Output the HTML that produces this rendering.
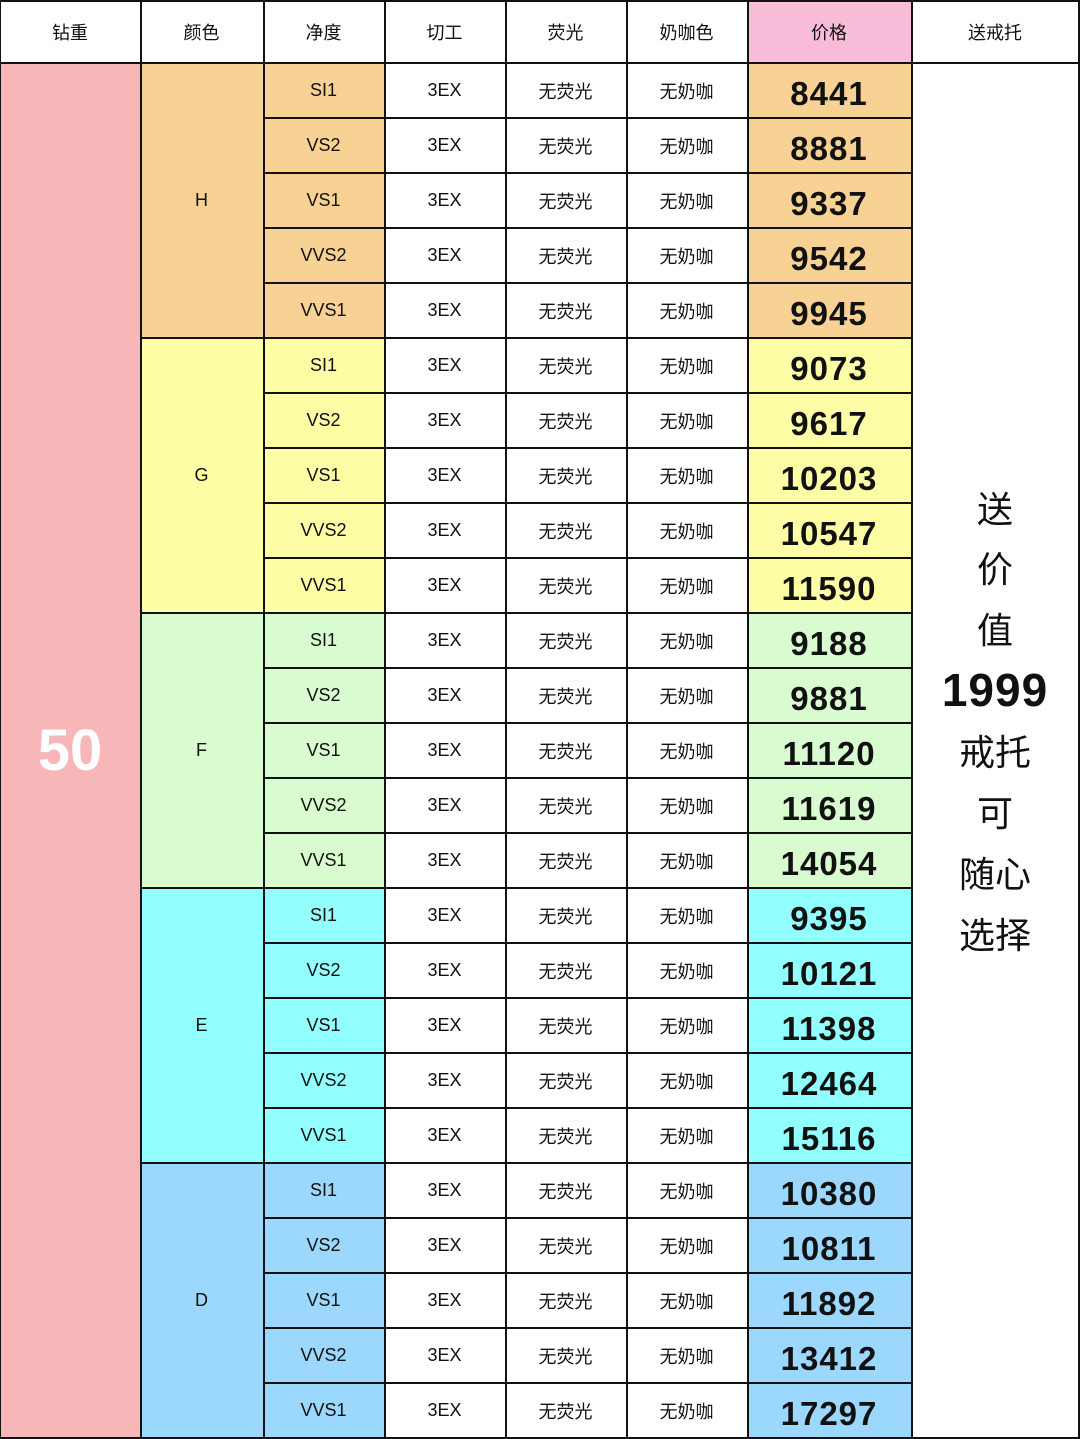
<!DOCTYPE html>
<html><head><meta charset="utf-8"><style>
body{margin:0;width:1080px;height:1439px;background:#fff;position:relative;overflow:hidden;font-family:"Liberation Sans","Noto Sans CJK SC",sans-serif;}
.c{position:absolute;box-sizing:border-box;display:flex;align-items:center;justify-content:center;color:#111;}
.ln{position:absolute;background:#111;}
</style></head><body>
<div id="root"></div>
<script>
const headers=['钻重','颜色','净度','切工','荧光','奶咖色','价格','送戒托'];
const colors=['H','G','F','E','D'];
const clarities=['SI1','VS2','VS1','VVS2','VVS1'];
const prices=[8441,8881,9337,9542,9945,9073,9617,10203,10547,11590,9188,9881,11120,11619,14054,9395,10121,11398,12464,15116,10380,10811,11892,13412,17297];
const fills=['#F8D294','#FDFDA6','#D8FCD0','#92FEFE','#9CD7FD'];
const xs=[0,140,263,384,505,626,747,911,1079];
const top0=63,rh=55;
const root=document.getElementById('root');
function cell(x,y,w,h,txt,bg,css,name){
  const d=document.createElement('div');d.className='c';
  d.style.cssText=`left:${x}px;top:${y}px;width:${w}px;height:${h}px;background:${bg||'transparent'};${css||''}`;
  d.textContent=txt;
  
  
  root.appendChild(d);return d;
}
function line(x,y,w,h){const l=document.createElement('div');l.className='ln';l.style.cssText=`left:${x}px;top:${y}px;width:${w}px;height:${h}px`;


root.appendChild(l);}
headers.forEach((h,i)=>{
  cell(xs[i],0,xs[i+1]-xs[i],top0,h,i==6?'#F9BCD8':'#fff','font-size:18px;','header-'+i);
});
cell(0,top0,140,25*rh,'50','#F7B7B9','color:#fff;font-size:58px;font-weight:bold;','carat-cell');
colors.forEach((c,g)=>{
  cell(140,top0+g*5*rh,123,5*rh,c,fills[g],'font-size:18px;','color-'+c);
  clarities.forEach((cl,k)=>{
    const r=g*5+k,y=top0+r*rh;
    cell(263,y,121,rh,cl,fills[g],'font-size:18px;','clarity-cell');
    cell(384,y,121,rh,'3EX','#fff','font-size:18px;','cut-cell');
    cell(505,y,121,rh,'无荧光','#fff','font-size:18px;','fluorescence-cell');
    cell(626,y,121,rh,'无奶咖','#fff','font-size:18px;','milky-cell');
    cell(747,y,164,rh,String(prices[r]),fills[g],'font-size:33px;font-weight:bold;letter-spacing:1px;padding-top:6px;','price-cell');
  });
});
const side=[['送',507,36,''],['价',567,36,''],['值',628,36,''],['1999',690,46,'font-weight:bold;letter-spacing:1px;'],['戒托',750,36,''],['可',811,36,''],['随心',872,36,''],['选择',933,36,'']];
side.forEach((s,i)=>cell(911,s[1]-30,168,60,s[0],null,`font-size:${s[2]}px;${s[3]}`,'gift-text-'+i));
// grid lines
xs.forEach(x=>line(Math.min(x,1078),0,x==0?1:2,1439));
line(0,0,1080,2);line(0,top0-1,1080,2);line(0,1437,1080,2);
for(let r=1;r<25;r++){const y=top0+r*rh-1;
  if(r%5==0) line(140,y,771,2); else line(263,y,648,2);}
</script>
</body></html>
